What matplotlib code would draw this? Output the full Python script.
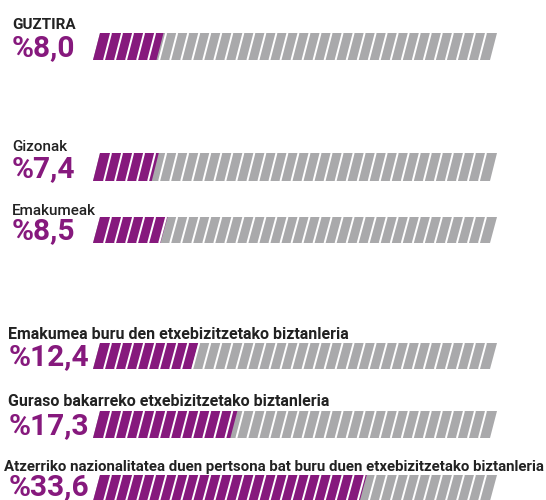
import matplotlib
matplotlib.use("Agg")
import matplotlib.pyplot as plt
from matplotlib.patches import Polygon

# Population at risk of poverty, share in percent
labels = [
    "GUZTIRA",
    "Gizonak",
    "Emakumeak",
    "Emakumea buru den etxebizitzetako biztanleria",
    "Guraso bakarreko etxebizitzetako biztanleria",
    "Atzerriko nazionalitatea duen pertsona bat buru duen etxebizitzetako biztanleria",
]
values = [8.0, 7.4, 8.5, 12.4, 17.3, 33.6]
scale_max = 50.0

PURPLE = "#86197d"
GREY = "#a9a9ab"
TEXT = "#222222"

W, H = 546, 500
fig = plt.figure(figsize=(W / 100, H / 100), dpi=100)
fig.patch.set_facecolor("white")

# Layout in pixels: (bar top, bar bottom, label baseline, label x, value x,
#                    label weight, label size, value baseline)
layout = [
    (33, 60, 29, 12, 12, "bold", 11, 56.5),
    (153, 181, 151, 12, 12, "medium", 11, 177.5),
    (217, 243, 215, 12, 12, "medium", 11, 239.5),
    (343, 369, 339, 8, 9, "semibold", 11.5, 365.5),
    (411, 438, 406, 8, 9, "semibold", 11.5, 434),
    (475, 501, 471, 4, 9, "semibold", 10.8, 495.5),
]
bar_left, bar_right = 93, 497
slant_px = 7
n_seg = 36


def fx(x):
    return x / W


def fy(y):
    return 1 - y / H


px_per_unit = (bar_right - bar_left - slant_px) / scale_max
slant = slant_px / px_per_unit
pitch = scale_max / n_seg

for label, val, (top, bot, lab_base, lab_x, val_x, weight, size, val_base) in zip(labels, values, layout):
    fig.text(fx(lab_x), fy(lab_base), label, fontsize=size, fontweight=weight,
             color=TEXT, family="Roboto", va="baseline", ha="left")
    txt = "%" + f"{val:.1f}".replace(".", ",")
    fig.text(fx(val_x), fy(val_base), txt, fontsize=21.5, fontweight="bold",
             color=PURPLE, family="Roboto", va="baseline", ha="left")

    ax = fig.add_axes([fx(bar_left), fy(bot), (bar_right - bar_left) / W, (bot - top) / H])
    ax.set_xlim(0, scale_max + slant)
    ax.set_ylim(0, 1)
    ax.axis("off")
    ax.add_patch(Polygon([(0, 0), (scale_max, 0), (scale_max + slant, 1), (slant, 1)],
                         closed=True, facecolor=GREY, edgecolor="none"))
    ax.add_patch(Polygon([(0, 0), (val, 0), (val + slant, 1), (slant, 1)],
                         closed=True, facecolor=PURPLE, edgecolor="none"))
    for k in range(1, n_seg):
        x = k * pitch
        ax.plot([x, x + slant], [0, 1], color="white", lw=1.4, solid_capstyle="butt")

fig.savefig("out.png", dpi=100, facecolor="white")
